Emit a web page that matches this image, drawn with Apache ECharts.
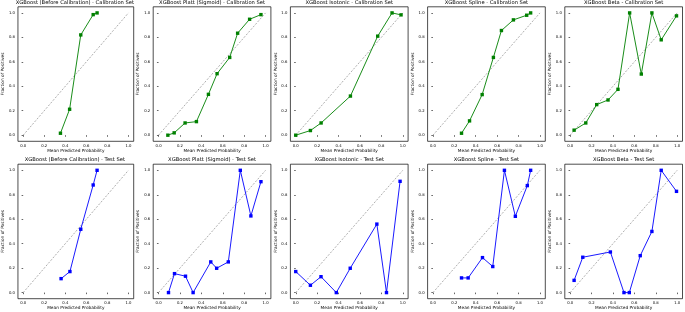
<!DOCTYPE html>
<html>
<head>
<meta charset="utf-8">
<script src="https://cdn.jsdelivr.net/npm/echarts@6/dist/echarts.min.js"></script>
<style>
  html, body { margin: 0; padding: 0; background: #fff; }
  #main { width: 685px; height: 312px; }
</style>
</head>
<body>
<div id="main"></div>
<script>
// calibration curves
const titles = [
  'XGBoost (Before Calibration) - Calibration Set',
  'XGBoost Platt (Sigmoid) - Calibration Set',
  'XGBoost Isotonic - Calibration Set',
  'XGBoost Spline - Calibration Set',
  'XGBoost Beta - Calibration Set',
  'XGBoost (Before Calibration) - Test Set',
  'XGBoost Platt (Sigmoid) - Test Set',
  'XGBoost Isotonic - Test Set',
  'XGBoost Spline - Test Set',
  'XGBoost Beta - Test Set'
];

// calibration set
const calBeforeX = [0.354, 0.441, 0.547, 0.665, 0.702];
const calBeforeY = [0.016, 0.212, 0.82, 0.986, 1.0];
const calPlattX = [0.087, 0.146, 0.248, 0.354, 0.466, 0.547, 0.665, 0.739, 0.851, 0.957];
const calPlattY = [0.0, 0.019, 0.10, 0.111, 0.334, 0.503, 0.636, 0.834, 0.948, 0.986];
const calIsoX = [0.0, 0.137, 0.237, 0.511, 0.766, 0.90, 0.984];
const calIsoY = [0.0, 0.038, 0.10, 0.32, 0.81, 1.0, 0.984];
const calSplineX = [0.267, 0.342, 0.460, 0.565, 0.640, 0.752, 0.876, 0.913];
const calSplineY = [0.016, 0.117, 0.332, 0.636, 0.856, 0.943, 0.981, 1.0];
const calBetaX = [0.037, 0.146, 0.248, 0.354, 0.447, 0.556, 0.665, 0.764, 0.851, 0.994];
const calBetaY = [0.041, 0.10, 0.25, 0.288, 0.375, 1.0, 0.50, 1.0, 0.78, 0.976];

// test set
const testBeforeX = [0.36, 0.444, 0.547, 0.665, 0.702];
const testBeforeY = [0.114, 0.172, 0.518, 0.880, 1.0];
const testPlattX = [0.093, 0.149, 0.252, 0.323, 0.488, 0.543, 0.652, 0.764, 0.863, 0.957];
const testPlattY = [0.0, 0.155, 0.134, 0.0, 0.251, 0.199, 0.251, 1.0, 0.627, 0.907];
const testIsoX = [0.0, 0.137, 0.236, 0.379, 0.509, 0.758, 0.848, 0.975];
const testIsoY = [0.172, 0.06, 0.13, 0.0, 0.199, 0.56, 0.0, 0.91];
const testSplineX = [0.267, 0.329, 0.463, 0.559, 0.668, 0.770, 0.882, 0.913];
const testSplineY = [0.12, 0.12, 0.286, 0.213, 1.0, 0.624, 0.875, 1.0];
const testBetaX = [0.037, 0.118, 0.376, 0.503, 0.553, 0.655, 0.764, 0.851, 0.994];
const testBetaY = [0.10, 0.289, 0.332, 0.0, 0.0, 0.302, 0.5, 1.0, 0.828];

const tickValues = [0, 0.2, 0.4, 0.6, 0.8, 1.0];

const panels = [
  [calBeforeX, calBeforeY], [calPlattX, calPlattY], [calIsoX, calIsoY],
  [calSplineX, calSplineY], [calBetaX, calBetaY],
  [testBeforeX, testBeforeY], [testPlattX, testPlattY], [testIsoX, testIsoY],
  [testSplineX, testSplineY], [testBetaX, testBetaY]
];

const FONT = 'DejaVu Sans';
const chart = echarts.init(document.getElementById('main'), null, { renderer: 'canvas' });

var grids = [], xAxes = [], yAxes = [], series = [], titleList = [];
panels.forEach(function (p, i) {
  var col = i % 5, row = Math.floor(i / 5);
  var left = 16 + col * 137.2;
  var top = row === 0 ? 6.8 : 164.2;
  var w = 117.7, h = 134.5;
  grids.push({
    left: left, top: top, width: w, height: h,
    show: true, borderColor: '#000', borderWidth: 0.7, backgroundColor: 'transparent'
  });
  titleList.push({
    text: titles[i],
    left: left + w / 2,
    top: row === 0 ? 0 : 157.3,
    padding: 0,
    textAlign: 'center',
    textStyle: { fontFamily: FONT, fontSize: 5.2, fontWeight: 'normal', color: '#000' }
  });
  var axisCommon = {
    type: 'value', min: -0.05, max: 1.05, gridIndex: i,
    nameLocation: 'middle',
    nameTextStyle: { fontFamily: FONT, fontSize: 4.3, color: '#000' },
    axisLine: { show: false },
    splitLine: { show: false },
    axisTick: { show: true, length: 1.6, customValues: tickValues, lineStyle: { color: '#000', width: 0.6 } },
    axisLabel: {
      customValues: tickValues, fontFamily: FONT, fontSize: 3.8, color: '#000',
      formatter: function (v) { return v.toFixed(1); }
    }
  };
  xAxes.push(Object.assign({}, axisCommon, {
    name: 'Mean Predicted Probability', nameGap: 7.5,
    axisLabel: Object.assign({}, axisCommon.axisLabel, { margin: 2.5 })
  }));
  yAxes.push(Object.assign({}, axisCommon, {
    name: 'Fraction of Positives', nameGap: 10.5,
    axisLabel: Object.assign({}, axisCommon.axisLabel, { margin: 3 })
  }));
  series.push({
    type: 'line', xAxisIndex: i, yAxisIndex: i,
    data: [[0, 0], [1, 1]], symbol: 'none', silent: true,
    lineStyle: { color: '#777', width: 0.6, type: [2, 1.5] }
  });
  var color = row === 0 ? '#008000' : '#0000ff';
  series.push({
    type: 'line', xAxisIndex: i, yAxisIndex: i,
    data: p[0].map(function (x, k) { return [x, p[1][k]]; }),
    symbol: 'rect', symbolSize: 3.4,
    itemStyle: { color: color },
    lineStyle: { color: color, width: 0.9 }
  });
});

chart.setOption({
  animation: false,
  backgroundColor: '#fff',
  title: titleList,
  grid: grids,
  xAxis: xAxes,
  yAxis: yAxes,
  series: series
});
</script>
</body>
</html>
